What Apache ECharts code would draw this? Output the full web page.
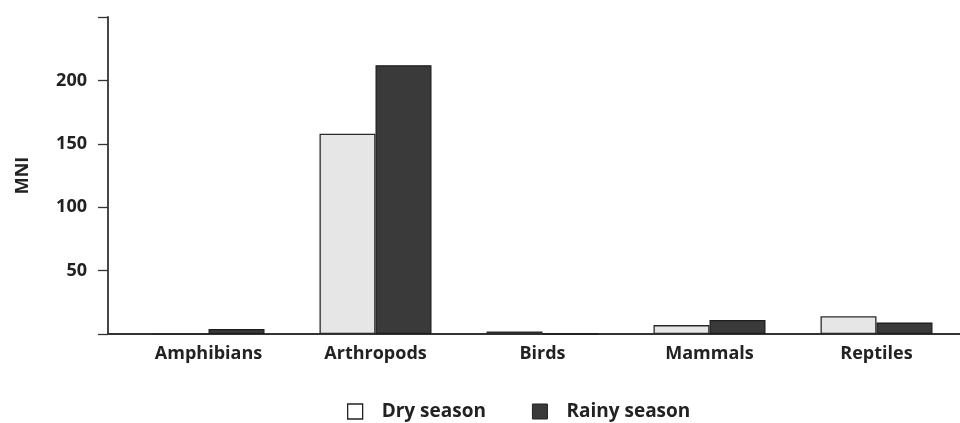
<!DOCTYPE html>
<html><head><meta charset="utf-8">
<script src="https://cdn.jsdelivr.net/npm/echarts@6/dist/echarts.min.js"></script>
<style>html,body{margin:0;padding:0;background:#fff}#c{width:960px;height:423px}</style>
</head><body><div id="c"></div>
<script>
const categories = ["Amphibians", "Arthropods", "Birds", "Mammals", "Reptiles"];
const drySeason = [0, 158, 2, 7, 14];
const rainySeason = [4, 212, 0, 11, 9];
const yTicks = [0, 50, 100, 150, 200, 250];

const font = "'Open Sans', Lato, sans-serif";
const chart = echarts.init(document.getElementById('c'));
chart.setOption({
  animation: false,
  backgroundColor: '#fff',
  legend: {
    top: 397, left: 342, itemGap: 46, itemWidth: 15, itemHeight: 15,
    textStyle: { fontFamily: font, fontWeight: 'bold', fontSize: 19, color: '#222', padding: [0, 0, 0, 14] },
    data: [
      { name: 'Dry season', icon: 'rect', itemStyle: { color: '#fff', borderColor: '#222', borderWidth: 1.3 } },
      { name: 'Rainy season', icon: 'rect', itemStyle: { color: '#3a3a3a', borderColor: '#222', borderWidth: 1 } }
    ]
  },
  grid: [
    { left: 125, right: 0, top: 17, bottom: 89 },
    { left: 108, right: 0, top: 17, bottom: 89 }
  ],
  xAxis: [
    {
      type: 'category', gridIndex: 0, data: categories,
      axisLine: { lineStyle: { color: '#333', width: 1.8 } },
      axisTick: { show: false },
      axisLabel: { margin: 11, fontFamily: font, fontWeight: 'bold', fontSize: 18, color: '#222' }
    },
    {
      type: 'category', gridIndex: 1, data: [],
      axisLine: { lineStyle: { color: '#333', width: 1.8 } },
      axisTick: { show: false }, axisLabel: { show: false }
    }
  ],
  yAxis: [
    {
      type: 'value', gridIndex: 0, min: yTicks[0], max: yTicks[yTicks.length - 1], interval: 50,
      offset: 17,
      name: 'MNI', nameLocation: 'middle', nameGap: 76, nameRotate: 90,
      nameTextStyle: { fontFamily: font, fontWeight: 'bold', fontSize: 18, color: '#222' },
      axisLine: { show: true, lineStyle: { color: '#333', width: 1.8 } },
      axisTick: { show: true, length: 10, lineStyle: { color: '#333', width: 1.3 } },
      axisLabel: {
        margin: 21, fontFamily: font, fontWeight: 'bold', fontSize: 18, color: '#222',
        formatter: v => (v === 0 || v === 250) ? '' : String(v)
      },
      splitLine: { show: false }
    },
    { type: 'value', gridIndex: 1, show: false, min: 0, max: 250 }
  ],
  series: [
    {
      name: 'Dry season', type: 'bar', data: drySeason, barWidth: 56, barGap: '0%',
      itemStyle: { color: '#e6e6e6', borderColor: '#2a2a2a', borderWidth: 1.3 }
    },
    {
      name: 'Rainy season', type: 'bar', data: rainySeason, barWidth: 56,
      itemStyle: { color: '#3a3a3a', borderColor: '#1e1e1e', borderWidth: 1.3 }
    }
  ]
});
</script></body></html>
